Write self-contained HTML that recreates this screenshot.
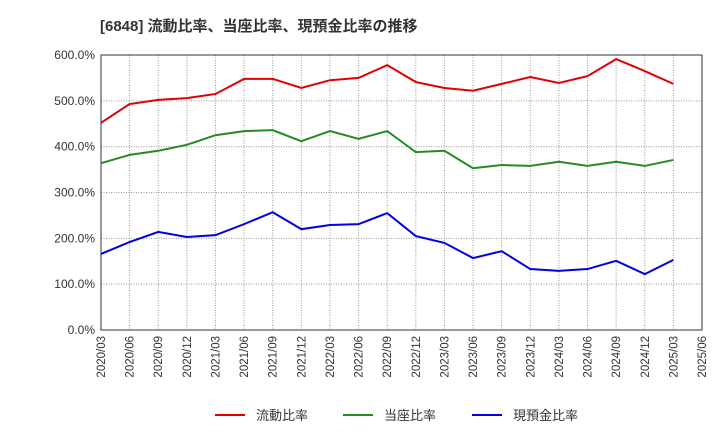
<!DOCTYPE html>
<html><head><meta charset="utf-8">
<style>
body{margin:0;background:#fff;width:720px;height:440px;overflow:hidden;font-family:"Liberation Sans","Noto Sans CJK JP",sans-serif;}
</style></head>
<body>
<svg id="chart" width="720" height="440" xmlns="http://www.w3.org/2000/svg">
<text x="100" y="31" font-size="15" font-weight="bold" fill="#333" font-family="Liberation Sans, Noto Sans CJK JP, sans-serif">[6848]  流動比率、当座比率、現預金比率の推移</text>
<g id="grid"></g><g id="axes"></g><g id="series"></g><g id="legend"></g>
</svg>
<script>
const xLabels=["2020/03","2020/06","2020/09","2020/12","2021/03","2021/06","2021/09","2021/12","2022/03","2022/06","2022/09","2022/12","2023/03","2023/06","2023/09","2023/12","2024/03","2024/06","2024/09","2024/12","2025/03","2025/06"];
const yTicks=[0,100,200,300,400,500,600];
const currentRatio=[452,493,502,506,515,548,548,528,545,550,578,541,528,522,537,552,539,554,591,565,537];
const quickRatio=[364,382,391,404,425,434,436,412,434,417,434,388,391,353,360,358,367,358,367,358,371];
const cashRatio=[166,192,214,203,207,231,257,220,229,231,255,205,190,157,172,133,129,133,151,122,153];
const seriesNames=["流動比率","当座比率","現預金比率"];
const ns="http://www.w3.org/2000/svg";
const L=101,R=702,T=55,B=330;
const x=i=>L+i*(R-L)/(xLabels.length-1);
const y=v=>B-(v/600)*(B-T);
function mk(tag,attrs,parent){const e=document.createElementNS(ns,tag);for(const k in attrs)e.setAttribute(k,attrs[k]);parent.appendChild(e);return e;}
const grid=document.getElementById('grid'),axes=document.getElementById('axes'),ser=document.getElementById('series'),leg=document.getElementById('legend');
xLabels.forEach((lab,i)=>{
 const l=mk('line',{x1:x(i),x2:x(i),y1:T,y2:B,stroke:'#999','stroke-dasharray':'1,1.5','stroke-width':1},grid);
 
 
 const t=mk('text',{x:0,y:0,'font-size':11.5,fill:'#333','text-anchor':'end',transform:`translate(${x(i)+4},${B+6}) rotate(-90)`},axes);
 t.textContent=lab;
 
 
});
yTicks.forEach(v=>{
 const l=mk('line',{x1:L,x2:R,y1:y(v),y2:y(v),stroke:'#999','stroke-dasharray':'1,1.5','stroke-width':1},grid);
 
 
 const t=mk('text',{x:L-6,y:y(v)+4,'font-size':12,fill:'#333','text-anchor':'end'},axes);
 t.textContent=v.toFixed(1)+'%';
 
 
});
const frame=mk('rect',{x:L,y:T,width:R-L,height:B-T,fill:'none',stroke:'#333','stroke-width':1},axes);


const all=[currentRatio,quickRatio,cashRatio],colors=['#e00000','#228b22','#0000e0'],names=['current-ratio-line','quick-ratio-line','cash-ratio-line'];
all.forEach((d,s)=>{
 const p=mk('polyline',{points:d.map((v,i)=>x(i)+','+y(v)).join(' '),fill:'none',stroke:colors[s],'stroke-width':2},ser);
 
 
});
const lx=[215,343,472];
seriesNames.forEach((n,s)=>{
 const g=mk('g',{},leg);
 
 
 mk('line',{x1:lx[s],x2:lx[s]+30,y1:415,y2:415,stroke:colors[s],'stroke-width':2},g);
 const t=mk('text',{x:lx[s]+41,y:420,'font-size':13,fill:'#333'},g);
 t.textContent=n;
});
</script>
</body></html>
